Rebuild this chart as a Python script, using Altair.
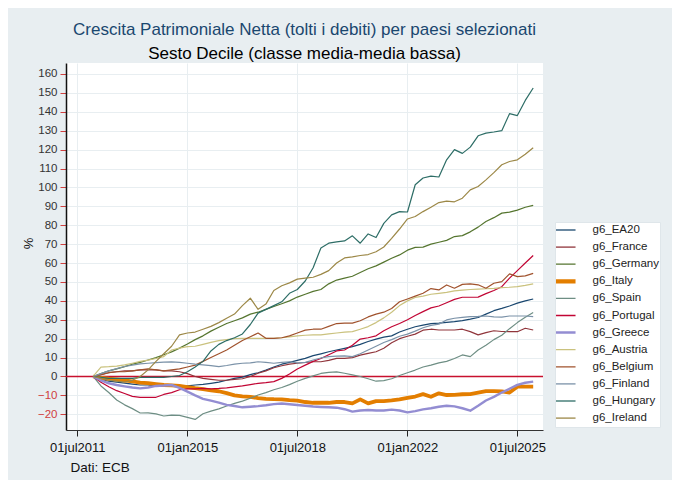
import altair as alt
import pandas as pd

# quarterly observations (first point Jan 2012, last point Jan 2026)
dates = pd.date_range("2012-01-01", periods=57, freq="3MS")

countries = ["g6_EA20", "g6_France", "g6_Germany", "g6_Italy", "g6_Spain", "g6_Portugal",
             "g6_Greece", "g6_Austria", "g6_Belgium", "g6_Finland", "g6_Hungary", "g6_Ireland"]
colors = ["#1a476f", "#90353b", "#55752f", "#e37e00", "#6e8e84", "#c10534",
          "#938dd2", "#cac27e", "#a0522d", "#7b92a8", "#2d6d66", "#9c8847"]
widths = [1.2, 1.2, 1.2, 3.8, 1.2, 1.2, 2.4, 1.2, 1.2, 1.2, 1.2, 1.2]

ea20 = [0, -1.5, -2.5, -3, -3.5, -4, -4.5, -4.5, -5, -5.3,
        -5.3, -5, -5, -4.5, -4.2, -3.6, -3, -2, -1, -0.3,
        1, 2, 3.4, 5, 6.5, 7.5, 8.5, 9.6, 11, 12,
        13.1, 14, 14.9, 15.8, 17, 18.5, 19.8, 20.8, 21.5, 23.5,
        25, 26.3, 27.2, 28, 28.2, 28.6, 29, 29.5, 30.3, 31.2,
        33, 34.8, 36, 37.3, 38.8, 40, 41]
france = [0, 1, 2, 2.5, 3, 3, 3.5, 3.5, 3.5, 3,
          3, 2.5, 1.5, 0, -1, -1.5, -2, -2, -1.5, -1.2,
          0, 1.7, 3, 4.6, 5.7, 6.5, 7, 7.4, 7.8, 7.8,
          8.5, 9.6, 9.6, 10, 11.3, 12.2, 13.1, 14.9, 17.8, 20,
          21.3, 22.4, 24.5, 25, 24.6, 24.6, 24.6, 25, 23.7, 22,
          23.2, 24.2, 23.8, 23.7, 23.7, 25.5, 24.6]
germany = [0, 1.5, 3, 4, 5.2, 6.5, 7.5, 8.7, 10, 11.5,
           13, 15, 17.2, 19.5, 21.5, 24, 26, 28, 29.5, 31,
           33, 34, 35.5, 37, 38.5, 40, 42, 43.5, 45, 46,
           49, 51, 52, 53, 55, 57, 58.5, 60.5, 62.5, 64.3,
           66.8, 68.3, 68.4, 70, 71, 72, 74, 74.5, 76.5, 79,
           82, 84, 86.4, 86.9, 88, 89.5, 90.5]
italy = [0, -0.8, -1.2, -1.5, -2, -2.6, -3.2, -3.5, -4, -4.5,
         -4.7, -5, -5.6, -6.2, -6.7, -7.3, -7.8, -8.8, -10, -10.5,
         -10.8, -11.4, -11.8, -12, -12.1, -12.5, -12.8, -13.5, -13.9, -13.9,
         -13.9, -13.5, -13.5, -14.2, -12.1, -14.2, -13, -13, -12.6, -12.1,
         -11.3, -10.6, -9.3, -10.7, -8.9, -9.8, -9.7, -9.4, -9.3, -8.5,
         -7.7, -7.7, -7.9, -8.5, -5.4, -5.4, -5.4]
spain = [0, -5, -8.5, -12.4, -15, -17, -19.3, -19.2, -19.8, -20.9,
         -20.4, -20.6, -21.6, -22.7, -19.7, -18.3, -17.1, -15.6, -14.2, -13,
         -11.5, -9.8, -8.5, -7, -5.8, -4.3, -2.5, -1, 0.3, 1.6,
         2.2, 2.4, 1.7, 0.9, 0, -1.2, -2.5, -2.2, -1.2, 0.5,
         2, 3.4, 5, 6, 7.2, 8, 9.5, 11.4, 10.5, 14,
         16.5, 19.5, 21.8, 25.3, 28.5, 31.3, 33.8]
portugal = [0, -3, -5.4, -7.5, -9, -10.5, -11, -11, -11, -9.5,
            -8.5, -7, -6.5, -6.5, -6.3, -6.5, -6.3, -6, -5.5, -5,
            -4.3, -3.6, -3.2, -2.7, -1, 1.3, 4, 6, 8, 9.5,
            11.5, 13.5, 14, 16.5, 19.8, 20.5, 21.5, 24.2, 26.3, 28,
            30, 32.3, 34.3, 36.3, 37.3, 39, 40.8, 41.9, 41.9, 42,
            43.8, 45.5, 47.5, 52, 56, 60, 64]
greece = [0, -2, -3.6, -4.5, -5.2, -5.8, -6.3, -5.8, -5, -4.8,
          -4.5, -6, -8, -10, -11.8, -12.8, -13.8, -15, -15.6, -16.3,
          -16, -15.7, -15.2, -14.6, -14.3, -14.7, -15.1, -15.5, -15.9, -16.1,
          -16.3, -16.5, -17.3, -18.6, -18, -17.7, -18, -18, -17.5, -18,
          -19, -18.3, -17.4, -16.8, -16, -15.5, -15.8, -16.8, -18.1, -15.5,
          -12.7, -10.8, -8.5, -6.5, -4.4, -3.3, -2.7]
austria = [0, 5, 5.2, 5.5, 6.1, 7, 8, 8.7, 9.5, 10.5,
           14, 15, 15.8, 16, 17, 18, 19, 19.5, 20, 20.2,
           20.2, 20.2, 20.2, 20.2, 20.5, 21, 21.5, 21.8, 22, 22,
           22.5, 23, 23.5, 23.7, 25, 26.4, 28.5, 31, 34, 37.5,
           40, 41.8, 42.5, 43.5, 44, 44.5, 45.3, 45.7, 46, 46.2,
           46.4, 46.6, 47, 47.2, 47.5, 48.2, 49]
belgium = [0, 1, 2, 2.5, 2.5, 3, 3.5, 4, 3.5, 3,
           3.5, 4, 5, 6, 8, 10, 12, 14, 16.5, 19,
           21, 23, 20.2, 20.2, 20.5, 21.5, 23, 24.5, 25, 25,
           26.5, 28, 28.2, 28.2, 29.5, 31.5, 33, 34, 36, 39.5,
           41, 42.5, 44, 46.5, 45.8, 48.4, 46.7, 48.7, 49, 48.5,
           46.7, 49.3, 50.2, 54.3, 52.8, 53.2, 54.5]
finland = [0, 1.5, 3, 4.2, 5.3, 6, 6.7, 7, 7.3, 7.6,
           7.7, 7.5, 7, 6.5, 6.1, 5.7, 5.2, 5.8, 6.5, 7,
           7.2, 7.8, 7.5, 7, 7.5, 7.8, 7.2, 7.5, 8.7, 9.8,
           10.5, 10.8, 10.9, 10.5, 12, 14, 16, 18, 19.5, 21.3,
           22.4, 24, 25.8, 27, 27.7, 29.9, 30.8, 31.3, 31.7, 31.8,
           32, 31.5, 31.4, 32, 32, 32, 31.7]
hungary = [0, -0.5, -1, -1, -1, -1, -0.5, -0.5, -0.5, -0.5,
           0, 0.5, 2.5, 5, 8, 13.5, 17, 19, 20.5, 22.5,
           27.5, 33.5, 35.5, 37.5, 39.5, 44, 46, 50.5, 57.5, 68,
           70.5, 71.2, 71.7, 74.4, 70.5, 75.4, 73.5, 81, 85.5, 87.2,
           87, 101.4, 105, 106, 105.5, 114.6, 120, 118, 121.3, 127.3,
           128.7, 129.3, 130, 139, 138, 146, 152.6]
ireland = [0, -1, -2, -2.5, -3, -2, 0, 3.5, 8, 12,
           16, 22, 23, 23.5, 25, 26.5, 28.5, 30.8, 33, 37.5,
           41.4, 35.5, 38.3, 45.5, 48, 49.5, 51.5, 52, 52.5, 54,
           56, 60, 62.7, 63.3, 64, 64.5, 66, 68.5, 73, 78,
           83.3, 84.6, 87.2, 89.5, 92, 92.7, 92.4, 94.3, 98.7, 100.5,
           104, 107.8, 112, 113.7, 114.6, 117.5, 121]

series = [ea20, france, germany, italy, spain, portugal,
          greece, austria, belgium, finland, hungary, ireland]

y_ticks = list(range(-20, 170, 10))

rows = []
for name, w, vals in zip(countries, widths, series):
    for d, v in zip(dates, vals):
        rows.append({"date": d, "country": name, "value": v, "w": w})
df = pd.DataFrame(rows)

FONT = "Liberation Sans"
RED = "#d04040"
NBSP = "\u00a0"

x_enc = alt.X(
    "date:T",
    scale=alt.Scale(domain=[alt.DateTime(year=2011, month=2, date=20),
                            alt.DateTime(year=2026, month=4, date=25)]),
    axis=alt.Axis(
        values=[alt.DateTime(year=2011, month=7, date=1),
                alt.DateTime(year=2015, month=1, date=1),
                alt.DateTime(year=2018, month=7, date=1),
                alt.DateTime(year=2022, month=1, date=1),
                alt.DateTime(year=2025, month=7, date=1)],
        labelExpr="lower(timeFormat(datum.value, '%d%b%Y'))",
        title="Dati: ECB", titleX=4, titleY=37.5, titleAlign="left",
        titleBaseline="middle", titleFontSize=13.5, titleFontWeight="normal",
        titleColor="#111", titleFont=FONT,
        labelFont=FONT, labelFontSize=13, labelColor="#111", labelPadding=5,
        tickSize=6, tickColor="#222", domainColor="#333", domainWidth=1,
        grid=True, gridColor="#e8eef1", labelFlush=False, labelOverlap=False,
    ),
)

y_scale = alt.Scale(domain=[-28.3, 165.8], nice=False, zero=False)
y_axis = alt.Axis(
    values=y_ticks, format="d", labelOverlap=False,
    title="%", titleX=-38, titleY=180, titleFontSize=13,
    titleBaseline="middle", titleAlign="center",
    titleFontWeight="normal", titleColor="#111", titleFont=FONT,
    labelFont=FONT, labelFontSize=11.5, labelPadding=3,
    labelColor={"expr": f"datum.value < 0 ? '{RED}' : '#333'"},
    tickSize=6, tickColor=RED, domainColor="#111", domainWidth=1.5,
    grid=True, gridColor="#e8eef1",
)

zero = alt.Chart(pd.DataFrame({"value": [0]})).mark_rule(
    color="#c8102e", strokeWidth=1.6
).encode(y=alt.Y("value:Q", scale=y_scale, axis=y_axis))

lines = alt.Chart(df).mark_line(strokeJoin="round").encode(
    x=x_enc,
    y=alt.Y("value:Q", scale=y_scale, axis=y_axis),
    color=alt.Color(
        "country:N",
        sort=countries,
        scale=alt.Scale(domain=countries, range=colors),
        legend=alt.Legend(
            title=None,
            labelExpr=f"datum.label + '{NBSP * 5}'",
            orient="none", legendX=489, legendY=159,
            symbolType="stroke", symbolSize=760,
            symbolStrokeWidth={"expr": "datum.value == 'g6_Italy' ? 4.2 : (datum.value == 'g6_Greece' ? 2.5 : 1.3)"},
            clipHeight=14, rowPadding=3.1, labelOffset=25,
            labelFont=FONT, labelFontSize=11.5, labelColor="#222",
            labelLimit=300,
            fillColor="white", strokeColor="#dfe6ea", padding=1,
        ),
    ),
    strokeWidth=alt.StrokeWidth("w:Q", scale=None, legend=None),
    detail="country:N",
)

chart = alt.layer(zero, lines).properties(
    width=477, height=367,
    autosize=alt.AutoSizeParams(type="none"),
    padding={"left": 58, "top": 55, "right": 129, "bottom": 50},
    title=alt.Title(
        text="Crescita Patrimoniale Netta (tolti i debiti) per paesi selezionati",
        subtitle="Sesto Decile (classe media-media bassa)",
        fontSize=17, subtitleFontSize=17, font=FONT, subtitleFont=FONT,
        color="#1a476f", subtitleColor="#000", fontWeight="normal",
        anchor="middle", frame="group", offset=0, subtitlePadding=7,
    ),
).configure(background="#e8eef1").configure_view(
    fill="white", stroke=None
).configure_legend(labelOffset=25)

chart.save("out.html", embed_options={"renderer": "svg", "actions": False})
